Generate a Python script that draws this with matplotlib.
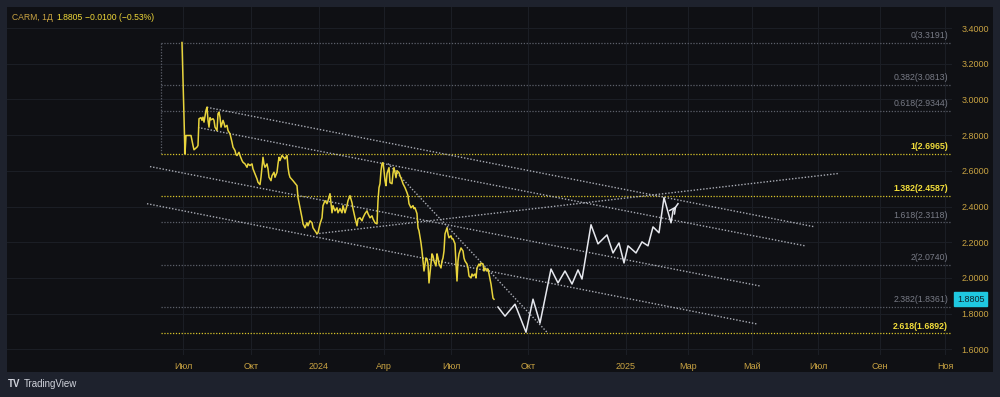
import matplotlib.pyplot as plt
from matplotlib.patches import Rectangle
import matplotlib.transforms as mtransforms

# =========================
# DATA
# =========================
# x is a bar index (Jul 2023 = 0), y is price
TICK_POS = [0, 68, 136, 201, 268, 345, 443, 505, 569, 635, 697, 762]
TICK_LABELS = ["Июл", "Окт", "2024", "Апр", "Июл", "Окт", "2025", "Мар", "Май", "Июл", "Сен", "Ноя"]

PRICE_X = [-1, 2, 3, 8, 10, 11, 14, 15, 16, 18, 19, 20, 21, 23, 24, 25, 26, 27, 28, 30,
           31, 32, 34, 35, 36, 37, 38, 40, 41, 42, 44, 45, 47, 49, 50, 52, 53, 54, 56, 57,
           59, 60, 62, 64, 65, 67, 69, 70, 72, 74, 75, 77, 78, 79, 80, 81, 82, 84, 85, 86,
           88, 89, 91, 92, 94, 95, 96, 97, 99, 100, 102, 104, 105, 106, 107, 110, 114, 115, 117, 119,
           120, 122, 124, 125, 127, 129, 130, 132, 134, 135, 137, 139, 140, 142, 144, 145, 147, 149, 150, 152,
           154, 155, 157, 159, 160, 162, 164, 165, 167, 169, 170, 172, 174, 175, 177, 179, 180, 182, 184, 185,
           187, 189, 190, 192, 194, 195, 196, 197, 198, 199, 200, 201, 202, 203, 204, 206, 207, 209, 210, 211,
           213, 214, 216, 217, 219, 220, 222, 224, 225, 226, 228, 230, 231, 232, 234, 235, 236, 238, 239, 240,
           241, 243, 244, 245, 246, 248, 249, 250, 251, 253, 254, 255, 256, 258, 259, 260, 261, 262, 264, 265,
           266, 268, 269, 270, 272, 273, 274, 275, 276, 277, 278, 280, 281, 282, 284, 285, 286, 288, 289, 290,
           292, 293, 294, 296, 297, 298, 300, 301, 302, 304, 305, 306, 308, 309, 310, 311]
PRICE_Y = [3.319, 2.695, 2.798, 2.798, 2.742, 2.718, 2.733, 2.742, 2.892, 2.898, 2.883, 2.901, 2.873, 2.939, 2.957, 2.883, 2.845, 2.898, 2.886, 2.892,
           2.883, 2.845, 2.826, 2.920, 2.929, 2.901, 2.845, 2.883, 2.867, 2.845, 2.855, 2.826, 2.808, 2.761, 2.733, 2.714, 2.691, 2.686, 2.704, 2.686,
           2.658, 2.648, 2.639, 2.620, 2.639, 2.630, 2.639, 2.611, 2.583, 2.555, 2.536, 2.523, 2.564, 2.620, 2.676, 2.639, 2.620, 2.639, 2.611, 2.564,
           2.545, 2.573, 2.592, 2.564, 2.592, 2.639, 2.676, 2.658, 2.686, 2.680, 2.667, 2.686, 2.620, 2.583, 2.564, 2.545, 2.517, 2.450, 2.393, 2.337,
           2.303, 2.281, 2.309, 2.292, 2.320, 2.309, 2.281, 2.264, 2.247, 2.253, 2.303, 2.337, 2.405, 2.433, 2.416, 2.433, 2.472, 2.365, 2.405, 2.376,
           2.393, 2.365, 2.388, 2.365, 2.405, 2.365, 2.405, 2.433, 2.461, 2.421, 2.388, 2.337, 2.292, 2.331, 2.337, 2.320, 2.337, 2.360, 2.376, 2.360,
           2.337, 2.348, 2.331, 2.309, 2.303, 2.433, 2.506, 2.528, 2.601, 2.641, 2.646, 2.601, 2.545, 2.517, 2.585, 2.618, 2.534, 2.528, 2.585, 2.618,
           2.562, 2.601, 2.590, 2.573, 2.545, 2.528, 2.506, 2.478, 2.461, 2.416, 2.393, 2.405, 2.388, 2.393, 2.360, 2.281, 2.264, 2.196, 2.151, 2.095,
           2.039, 2.112, 2.106, 2.078, 1.972, 2.078, 2.135, 2.123, 2.095, 2.067, 2.135, 2.112, 2.078, 2.056, 2.095, 2.112, 2.151, 2.247, 2.281, 2.247,
           2.225, 2.236, 2.219, 2.219, 2.191, 2.078, 1.983, 2.095, 2.135, 2.151, 2.168, 2.151, 2.112, 2.095, 2.078, 2.056, 2.011, 2.000, 2.022, 2.011,
           2.022, 2.000, 2.056, 2.078, 2.067, 2.084, 2.078, 2.039, 2.056, 2.039, 2.050, 2.022, 1.966, 1.927, 1.887, 1.8805]

# projected path (white zigzag with arrow)
PATH_X = [315, 322, 332, 343, 350, 357, 368, 375, 382, 389, 395, 399, 408, 415, 424, 430, 436, 441,
          445, 453, 459, 465, 470, 476, 481, 488, 490, 495]
PATH_Y = [1.837, 1.786, 1.853, 1.696, 1.881, 1.747, 2.050, 1.972, 2.039, 1.966, 2.045, 1.994, 2.298, 2.191,
          2.241, 2.140, 2.196, 2.084, 2.180, 2.140, 2.202, 2.180, 2.286, 2.253, 2.450, 2.309, 2.376, 2.416]

# fibonacci extension levels
FIB_RATIOS = ["0", "0.382", "0.618", "1", "1.382", "1.618", "2", "2.382", "2.618"]
FIB_LEVELS = [3.3191, 3.0813, 2.9344, 2.6965, 2.4587, 2.3118, 2.0740, 1.8361, 1.6892]
FIB_HIGHLIGHT = [False, False, False, True, True, False, False, False, True]
FIB_START = -22

# trend lines: (x0, y0, x1, y1)
TREND_LINES = [
    (24, 2.956, 632, 2.286),
    (15, 2.843, 622, 2.180),
    (-33, 2.624, 577, 1.955),
    (-36, 2.416, 575, 1.741),
    (133, 2.247, 655, 2.585),
    (205, 2.641, 365, 1.690),
]

Y_TICKS = [1.6, 1.8, 2.0, 2.2, 2.4, 2.6, 2.8, 3.0, 3.2, 3.4]
LAST_PRICE = 1.8805

# =========================
# STYLE
# =========================
FRAME = "#1e222d"
PANEL = "#0f1014"
GRID = "#1b1e25"
YELLOW = "#e8d43c"
FIB_YELLOW = "#d9c52a"
FIB_GRAY = "#5d606b"
GRAY_TXT = "#787b86"
CHANNEL = "#a9acb5"
AXIS_TXT = "#c9a342"
DOT = (0, (1, 1.3))

plt.rcParams["font.family"] = ["Liberation Sans", "DejaVu Sans"]

W, H = 1000, 397
fig = plt.figure(figsize=(W / 100, H / 100), dpi=100, facecolor=FRAME)
fig.patches.append(Rectangle((7 / W, 1 - 372 / H), (993 - 7) / W, (372 - 7) / H,
                             transform=fig.transFigure, facecolor=PANEL, edgecolor="none", zorder=-5))

ax = fig.add_axes([7 / W, 1 - 355 / H, (952 - 7) / W, (355 - 7) / H])
ax.set_zorder(1)
ax.set_facecolor(PANEL)
ax.set_xlim(-176, 769)
ax.set_ylim(1.5683, 3.518)

for s in ax.spines.values():
    s.set_visible(False)

ax.set_xticks(TICK_POS)
ax.set_xticklabels(TICK_LABELS)
ax.set_yticks(Y_TICKS)
ax.set_yticklabels([f"{v:.4f}" for v in Y_TICKS])
ax.yaxis.tick_right()
ax.tick_params(axis="both", length=0, colors=AXIS_TXT, labelsize=6.5)
ax.tick_params(axis="y", pad=7)
ax.tick_params(axis="x", pad=5)
ax.grid(True, color=GRID, lw=0.8)
ax.set_axisbelow(True)

# fib levels
blend = mtransforms.blended_transform_factory(ax.transAxes, ax.transData)
for r, lv, hi in zip(FIB_RATIOS, FIB_LEVELS, FIB_HIGHLIGHT):
    c = FIB_YELLOW if hi else FIB_GRAY
    ax.plot([FIB_START, 769], [lv, lv], color=c, lw=0.9, ls=DOT, zorder=2)
    ax.annotate(f"{r}({lv:.4f})", xy=(0.996, lv), xycoords=blend, xytext=(0, 2),
                textcoords="offset points", ha="right", va="bottom", fontsize=6.3,
                color="#f2dd3a" if hi else GRAY_TXT, fontweight="bold" if hi else "normal")
ax.plot([FIB_START, FIB_START], [FIB_LEVELS[0], FIB_LEVELS[3]], color=FIB_GRAY, lw=0.9, ls=DOT, zorder=2)

# trend channel lines
for x0, y0, x1, y1 in TREND_LINES:
    ax.plot([x0, x1], [y0, y1], color=CHANNEL, lw=1.0, ls=DOT, zorder=3)

# price
ax.plot(PRICE_X, PRICE_Y, color=YELLOW, lw=1.1, zorder=4)

# projection
ax.plot(PATH_X, PATH_Y, color="#e6e8ee", lw=1.1, zorder=5)
ax.annotate("", xy=(PATH_X[-1], PATH_Y[-1]), xytext=(PATH_X[-2], PATH_Y[-2]),
            arrowprops=dict(arrowstyle="->", color="#e6e8ee", lw=1.1, mutation_scale=11), zorder=5)

# last price tag
ax.text(1.0055, LAST_PRICE, f"{LAST_PRICE:.4f}", transform=blend, ha="left", va="center",
        fontsize=6.5, color="#10222a",
        bbox=dict(boxstyle="square,pad=0.3", facecolor="#1fc8e0", edgecolor="#1fc8e0"))

# header
fig.text(12 / W, 1 - 17 / H, "CARM, 1Д", color=AXIS_TXT, fontsize=6.2, va="center")
fig.text(56 / W, 1 - 17 / H, "1.8805", color="#f0d839", fontsize=6.2, va="center")
fig.text(85 / W, 1 - 17 / H, "\u22120.0100 (\u22120.53%)", color="#f0d839", fontsize=6.2, va="center")

# logo
fig.text(8 / W, 1 - 384 / H, "TV", color="#d1d4dc", fontsize=7, fontweight="bold", va="center")
fig.text(24 / W, 1 - 384 / H, "TradingView", color="#d1d4dc", fontsize=7, va="center")

fig.savefig("out.png", dpi=100, facecolor=FRAME)
